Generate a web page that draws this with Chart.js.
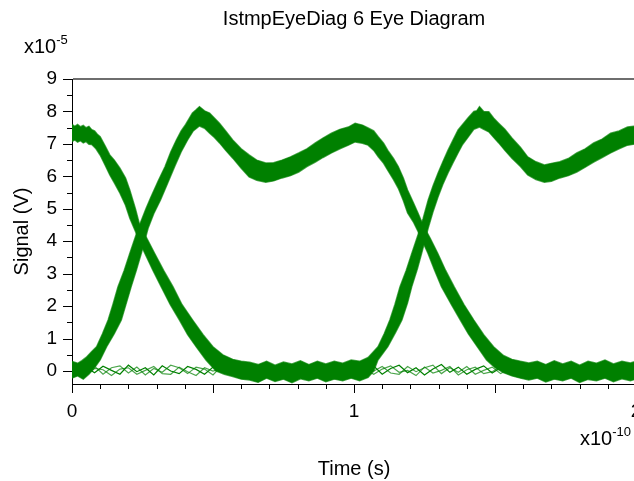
<!DOCTYPE html>
<html><head><meta charset="utf-8">
<script src="https://cdn.jsdelivr.net/npm/chart.js@4.4.1/dist/chart.umd.min.js"></script>
<style>html,body{margin:0;padding:0;background:#fff;overflow:hidden;width:634px;height:481px}canvas{display:block}</style>
</head><body>
<canvas id="c" width="650" height="481"></canvas>
<script>
// ---- text ----
const chartTitle = 'IstmpEyeDiag 6 Eye Diagram';
const xAxisTitle = 'Time (s)';
const yAxisTitle = 'Signal (V)';
const xExponent = '-10';
const yExponent = '-5';
const xTickLabels = ['0', '1', '2'];
const yTickLabels = ['0', '1', '2', '3', '4', '5', '6', '7', '8', '9'];

// ---- data (time in units of 1e-10 s, signal in units of 1e-5 V) ----
// Eye band A: starts high, falls, stays low, rises again
const bandAUpper = [[0,7.6],[0.01,7.54],[0.02,7.6],[0.03,7.53],[0.04,7.57],[0.05,7.5],[0.06,7.54],[0.07,7.44],[0.08,7.4],[0.09,7.3],[0.1,7.22],[0.117,6.95],[0.134,6.66],[0.15,6.5],[0.17,6.25],[0.19,5.95],[0.205,5.58],[0.225,5.0],[0.24,4.5],[0.265,4.1],[0.293,3.63],[0.325,3.1],[0.358,2.6],[0.39,2.05],[0.428,1.57],[0.465,1.12],[0.5,0.75],[0.535,0.5],[0.57,0.36],[0.6,0.3],[0.63,0.27],[0.66,0.2],[0.69,0.3],[0.72,0.18],[0.75,0.28],[0.78,0.22],[0.81,0.32],[0.84,0.2],[0.87,0.3],[0.9,0.22],[0.93,0.3],[0.96,0.24],[0.99,0.34],[1.02,0.3],[1.05,0.42],[1.085,0.75],[1.107,1.15],[1.127,1.57],[1.145,2.05],[1.163,2.6],[1.185,3.1],[1.205,3.63],[1.227,4.2],[1.245,4.7],[1.263,5.27],[1.28,5.7],[1.298,6.1],[1.315,6.45],[1.333,6.8],[1.35,7.1],[1.369,7.43],[1.385,7.6],[1.404,7.8],[1.425,8.0],[1.435,8.02],[1.445,8.15],[1.46,8.0],[1.478,7.99],[1.495,7.8],[1.513,7.64],[1.535,7.45],[1.56,7.18],[1.59,6.9],[1.616,6.6],[1.645,6.45],[1.675,6.35],[1.7,6.4],[1.73,6.45],[1.76,6.55],[1.79,6.72],[1.82,6.85],[1.85,7.03],[1.88,7.15],[1.91,7.33],[1.94,7.4],[1.97,7.52],[2.0,7.55]];
const bandALower = [[0,7.07],[0.01,7.12],[0.02,7.05],[0.03,7.1],[0.04,7.03],[0.05,7.07],[0.06,6.99],[0.07,6.98],[0.085,6.85],[0.1,6.65],[0.117,6.35],[0.134,6.04],[0.15,5.8],[0.17,5.48],[0.19,5.1],[0.205,4.71],[0.225,4.3],[0.24,3.97],[0.258,3.63],[0.287,3.1],[0.316,2.6],[0.348,2.05],[0.381,1.57],[0.41,1.12],[0.44,0.75],[0.475,0.34],[0.51,0.0],[0.54,-0.1],[0.57,-0.17],[0.6,-0.25],[0.63,-0.28],[0.66,-0.35],[0.69,-0.22],[0.72,-0.32],[0.75,-0.25],[0.78,-0.36],[0.81,-0.24],[0.84,-0.3],[0.87,-0.22],[0.9,-0.33],[0.93,-0.25],[0.96,-0.3],[0.99,-0.22],[1.02,-0.3],[1.05,-0.2],[1.07,0.0],[1.085,0.34],[1.12,0.75],[1.148,1.2],[1.17,1.57],[1.19,2.1],[1.205,2.6],[1.225,3.15],[1.24,3.63],[1.263,4.4],[1.28,4.9],[1.298,5.36],[1.315,5.75],[1.333,6.1],[1.35,6.4],[1.369,6.72],[1.385,6.98],[1.404,7.2],[1.425,7.45],[1.445,7.52],[1.46,7.45],[1.478,7.37],[1.495,7.2],[1.513,7.03],[1.535,6.8],[1.56,6.56],[1.59,6.3],[1.616,6.04],[1.645,5.9],[1.675,5.82],[1.7,5.85],[1.73,5.95],[1.76,6.02],[1.79,6.13],[1.82,6.28],[1.85,6.44],[1.88,6.58],[1.91,6.72],[1.94,6.85],[1.97,6.96],[2.0,7.0]];
// Eye band B: starts low, rises, stays high, falls
const bandBUpper = [[0,0.3],[0.02,0.24],[0.035,0.32],[0.05,0.42],[0.07,0.6],[0.087,0.75],[0.108,1.15],[0.128,1.57],[0.145,2.05],[0.163,2.6],[0.185,3.1],[0.205,3.63],[0.235,4.4],[0.262,5.0],[0.279,5.35],[0.305,5.85],[0.33,6.3],[0.35,6.75],[0.37,7.12],[0.387,7.4],[0.403,7.6],[0.427,7.95],[0.44,8.05],[0.452,8.15],[0.47,8.02],[0.488,7.95],[0.505,7.8],[0.523,7.64],[0.545,7.4],[0.57,7.12],[0.6,6.85],[0.628,6.66],[0.655,6.5],[0.687,6.41],[0.715,6.42],[0.745,6.5],[0.775,6.6],[0.804,6.72],[0.833,6.85],[0.863,7.03],[0.89,7.18],[0.92,7.33],[0.95,7.45],[0.98,7.52],[1.004,7.64],[1.03,7.58],[1.05,7.49],[1.07,7.4],[1.086,7.22],[1.105,7.02],[1.12,6.8],[1.14,6.55],[1.157,6.3],[1.175,5.95],[1.19,5.58],[1.21,5.2],[1.227,4.87],[1.245,4.5],[1.27,4.1],[1.297,3.63],[1.325,3.1],[1.355,2.6],[1.39,2.05],[1.425,1.57],[1.46,1.12],[1.495,0.75],[1.53,0.48],[1.56,0.36],[1.59,0.3],[1.62,0.25],[1.65,0.3],[1.68,0.2],[1.71,0.32],[1.74,0.22],[1.77,0.3],[1.8,0.18],[1.83,0.3],[1.86,0.24],[1.89,0.34],[1.92,0.22],[1.95,0.3],[1.98,0.25],[2.0,0.3]];
const bandBLower = [[0,-0.22],[0.02,-0.15],[0.04,-0.25],[0.06,-0.1],[0.08,0.1],[0.1,0.34],[0.123,0.75],[0.15,1.15],[0.175,1.57],[0.193,2.1],[0.21,2.6],[0.228,3.1],[0.246,3.63],[0.27,4.4],[0.29,4.85],[0.314,5.27],[0.34,5.8],[0.364,6.3],[0.387,6.75],[0.41,7.12],[0.43,7.4],[0.452,7.55],[0.47,7.48],[0.488,7.33],[0.505,7.2],[0.523,7.03],[0.545,6.8],[0.57,6.56],[0.6,6.25],[0.628,5.98],[0.655,5.88],[0.687,5.82],[0.715,5.86],[0.745,5.95],[0.775,6.02],[0.804,6.13],[0.833,6.3],[0.863,6.44],[0.89,6.58],[0.92,6.72],[0.95,6.85],[0.98,6.96],[1.004,7.06],[1.03,7.02],[1.05,6.96],[1.07,6.8],[1.086,6.6],[1.105,6.4],[1.12,6.18],[1.14,5.9],[1.157,5.63],[1.175,5.25],[1.19,4.87],[1.21,4.6],[1.227,4.3],[1.262,3.63],[1.286,3.1],[1.31,2.6],[1.345,2.05],[1.377,1.57],[1.405,1.15],[1.437,0.75],[1.47,0.34],[1.5,0.1],[1.53,-0.05],[1.56,-0.15],[1.59,-0.22],[1.62,-0.28],[1.65,-0.22],[1.68,-0.34],[1.71,-0.25],[1.74,-0.3],[1.77,-0.22],[1.8,-0.35],[1.83,-0.26],[1.86,-0.3],[1.89,-0.22],[1.92,-0.33],[1.95,-0.24],[1.98,-0.3],[2.0,-0.25]];
// A few isolated low traces near zero
const thinTimes = [0.02,0.05,0.08,0.11,0.14,0.17,0.20,0.23,0.26,0.29,0.32,0.35,0.38,0.41,0.44,0.47,0.50,0.53,0.56,0.59,0.62,0.65,0.68,0.71,0.74,0.77,0.80,0.83,0.86,0.89,0.92,0.95,0.98,1.01,1.04,1.07,1.10,1.13,1.16,1.19,1.22,1.25,1.28,1.31,1.34,1.37,1.40,1.43,1.46,1.49,1.52,1.55];
const thinTrace1 = [0.05,0.12,-0.05,0.15,0.02,-0.1,0.18,-0.02,0.1,-0.12,0.16,0.0,-0.08,0.14,0.05,-0.1,0.12,-0.04,0.1,0.0,-0.06,0.12,0.02,-0.1,0.15,-0.02,0.08,-0.1,0.12,0.03,-0.08,0.14,-0.02,0.1,-0.06,0.15,-0.1,0.08,0.18,-0.05,0.1,-0.12,0.06,0.2,-0.04,0.12,-0.1,0.05,0.16,-0.06,0.1,0.02];
const thinTrace2 = [-0.08,0.02,0.15,-0.1,0.1,0.16,-0.06,0.12,-0.12,0.08,-0.04,0.18,0.1,-0.08,0.12,0.06,-0.12,0.15,-0.02,-0.1,0.12,-0.04,0.16,0.04,-0.08,0.14,-0.1,0.06,0.0,-0.12,0.1,0.02,0.16,-0.08,0.12,0.0,0.14,-0.06,-0.1,0.14,-0.02,0.1,0.18,-0.08,0.1,-0.04,0.14,-0.1,0.02,0.12,-0.08,0.06];
const thinTrace3 = [0.0,-0.12,0.08,0.04,-0.14,0.06,0.1,-0.1,0.02,0.14,-0.08,-0.1,0.12,-0.02,-0.14,0.1,0.0,0.08,-0.12,0.14,0.04,-0.1,-0.06,0.16,-0.04,0.06,-0.12,0.12,-0.06,0.1,0.16,-0.08,0.06,-0.12,0.04,-0.1,0.06,0.16,-0.04,0.02,-0.14,0.12,-0.06,0.02,0.14,-0.12,0.04,0.12,-0.08,-0.02,0.14,-0.06];

// ---- build ----
const GREEN = 'rgb(0,128,0)';
const FONT = '"Liberation Sans", Arial, sans-serif';
const pts = arr => arr.map(p => ({x: p[0], y: p[1]}));
const thinPts = ys => thinTimes.map((t, i) => ({x: t, y: ys[i]}));
const isStep = (v, s) => Math.abs(v / s - Math.round(v / s)) < 1e-6;

const edge = (data, fill) => ({
  data: pts(data), borderColor: 'rgba(0,128,0,0.7)', borderWidth: 1.4,
  backgroundColor: GREEN, fill: fill, pointRadius: 0, tension: 0
});
const thin = (ys, color) => ({
  data: thinPts(ys), borderColor: color, borderWidth: 1.2, fill: false, pointRadius: 0, tension: 0
});

const tickMarks = {
  id: 'tickMarks',
  afterDraw(chart) {
    const ctx = chart.ctx, xs = chart.scales.x, ys = chart.scales.y, a = chart.chartArea;
    ctx.save();
    ctx.strokeStyle = '#000'; ctx.lineWidth = 1;
    xs.ticks.forEach(t => {
      if (!isStep(t.value, 0.1)) return;
      const px = Math.round(xs.getPixelForValue(t.value)) + 0.5;
      const len = isStep(t.value, 0.5) ? 9 : 5;
      ctx.beginPath(); ctx.moveTo(px, a.bottom); ctx.lineTo(px, a.bottom + len); ctx.stroke();
    });
    ys.ticks.forEach(t => {
      if (!isStep(t.value, 0.5)) return;
      const py = Math.round(ys.getPixelForValue(t.value)) + 0.5;
      const len = isStep(t.value, 1) ? 9 : 5;
      ctx.beginPath(); ctx.moveTo(a.left, py); ctx.lineTo(a.left - len, py); ctx.stroke();
    });
    ctx.restore();
  }
};

const texts = {
  id: 'texts',
  afterDraw(chart) {
    const ctx = chart.ctx, a = chart.chartArea;
    const cx = (a.left + a.right) / 2;
    ctx.save();
    ctx.fillStyle = '#000';
    ctx.textBaseline = 'middle';
    ctx.textAlign = 'center';
    ctx.font = '20px ' + FONT;
    ctx.fillText(chartTitle, cx, 19);
    ctx.fillText(xAxisTitle, cx, 469);
    ctx.save();
    ctx.translate(22, (a.top + a.bottom) / 2);
    ctx.rotate(-Math.PI / 2);
    ctx.fillText(yAxisTitle, 0, 0);
    ctx.restore();
    // exponents
    ctx.textAlign = 'left';
    ctx.font = '20px ' + FONT;
    const w = ctx.measureText('x10').width;
    ctx.fillText('x10', 24, 47);
    ctx.font = '13px ' + FONT;
    ctx.fillText(yExponent, 24 + w, 40);
    ctx.font = '20px ' + FONT;
    ctx.fillText('x10', 580, 439);
    ctx.font = '13px ' + FONT;
    ctx.fillText(xExponent, 580 + w, 432);
    ctx.restore();
  }
};

new Chart(document.getElementById('c'), {
  type: 'line',
  data: {
    datasets: [
      edge(bandAUpper, false),
      edge(bandALower, '-1'),
      edge(bandBUpper, false),
      edge(bandBLower, '-1'),
      thin(thinTrace1, 'rgb(0,128,0)'),
      thin(thinTrace2, 'rgba(0,128,0,0.7)'),
      thin(thinTrace3, 'rgba(0,128,0,0.7)')
    ]
  },
  options: {
    responsive: false,
    animation: false,
    events: [],
    layout: {padding: {left: 0, top: 79, right: 14, bottom: 0}},
    plugins: {legend: {display: false}, tooltip: {enabled: false}, title: {display: false}},
    scales: {
      x: {
        type: 'linear', min: 0, max: 2,
        afterFit: s => { s.height = 97; s.paddingLeft = 0; s.paddingRight = 0; },
        border: {display: true, color: '#000', width: 1},
        grid: {display: true, drawOnChartArea: false, drawTicks: false},
        ticks: {
          stepSize: 0.1, autoSkip: false, maxRotation: 0, padding: 16, color: '#000',
          font: {family: FONT, size: 19},
          callback: v => isStep(v, 1) ? xTickLabels[Math.round(v)] : ''
        }
      },
      y: {
        type: 'linear', min: -0.4, max: 9,
        afterFit: s => { s.width = 72; s.paddingTop = 0; s.paddingBottom = 0; },
        border: {display: true, color: '#000', width: 1},
        grid: {
          display: true, drawOnChartArea: true, drawTicks: false,
          color: c => (c.tick && Math.abs(c.tick.value - 9) < 1e-6) ? '#6e6e6e' : 'rgba(0,0,0,0)',
          lineWidth: c => (c.tick && Math.abs(c.tick.value - 9) < 1e-6) ? 2 : 0
        },
        ticks: {
          stepSize: 0.5, includeBounds: false, autoSkip: false, padding: 15, color: '#000',
          font: {family: FONT, size: 19},
          callback: v => (isStep(v, 1) && v >= 0) ? yTickLabels[Math.round(v)] : ''
        }
      }
    }
  },
  plugins: [tickMarks, texts]
});
</script>
</body></html>
